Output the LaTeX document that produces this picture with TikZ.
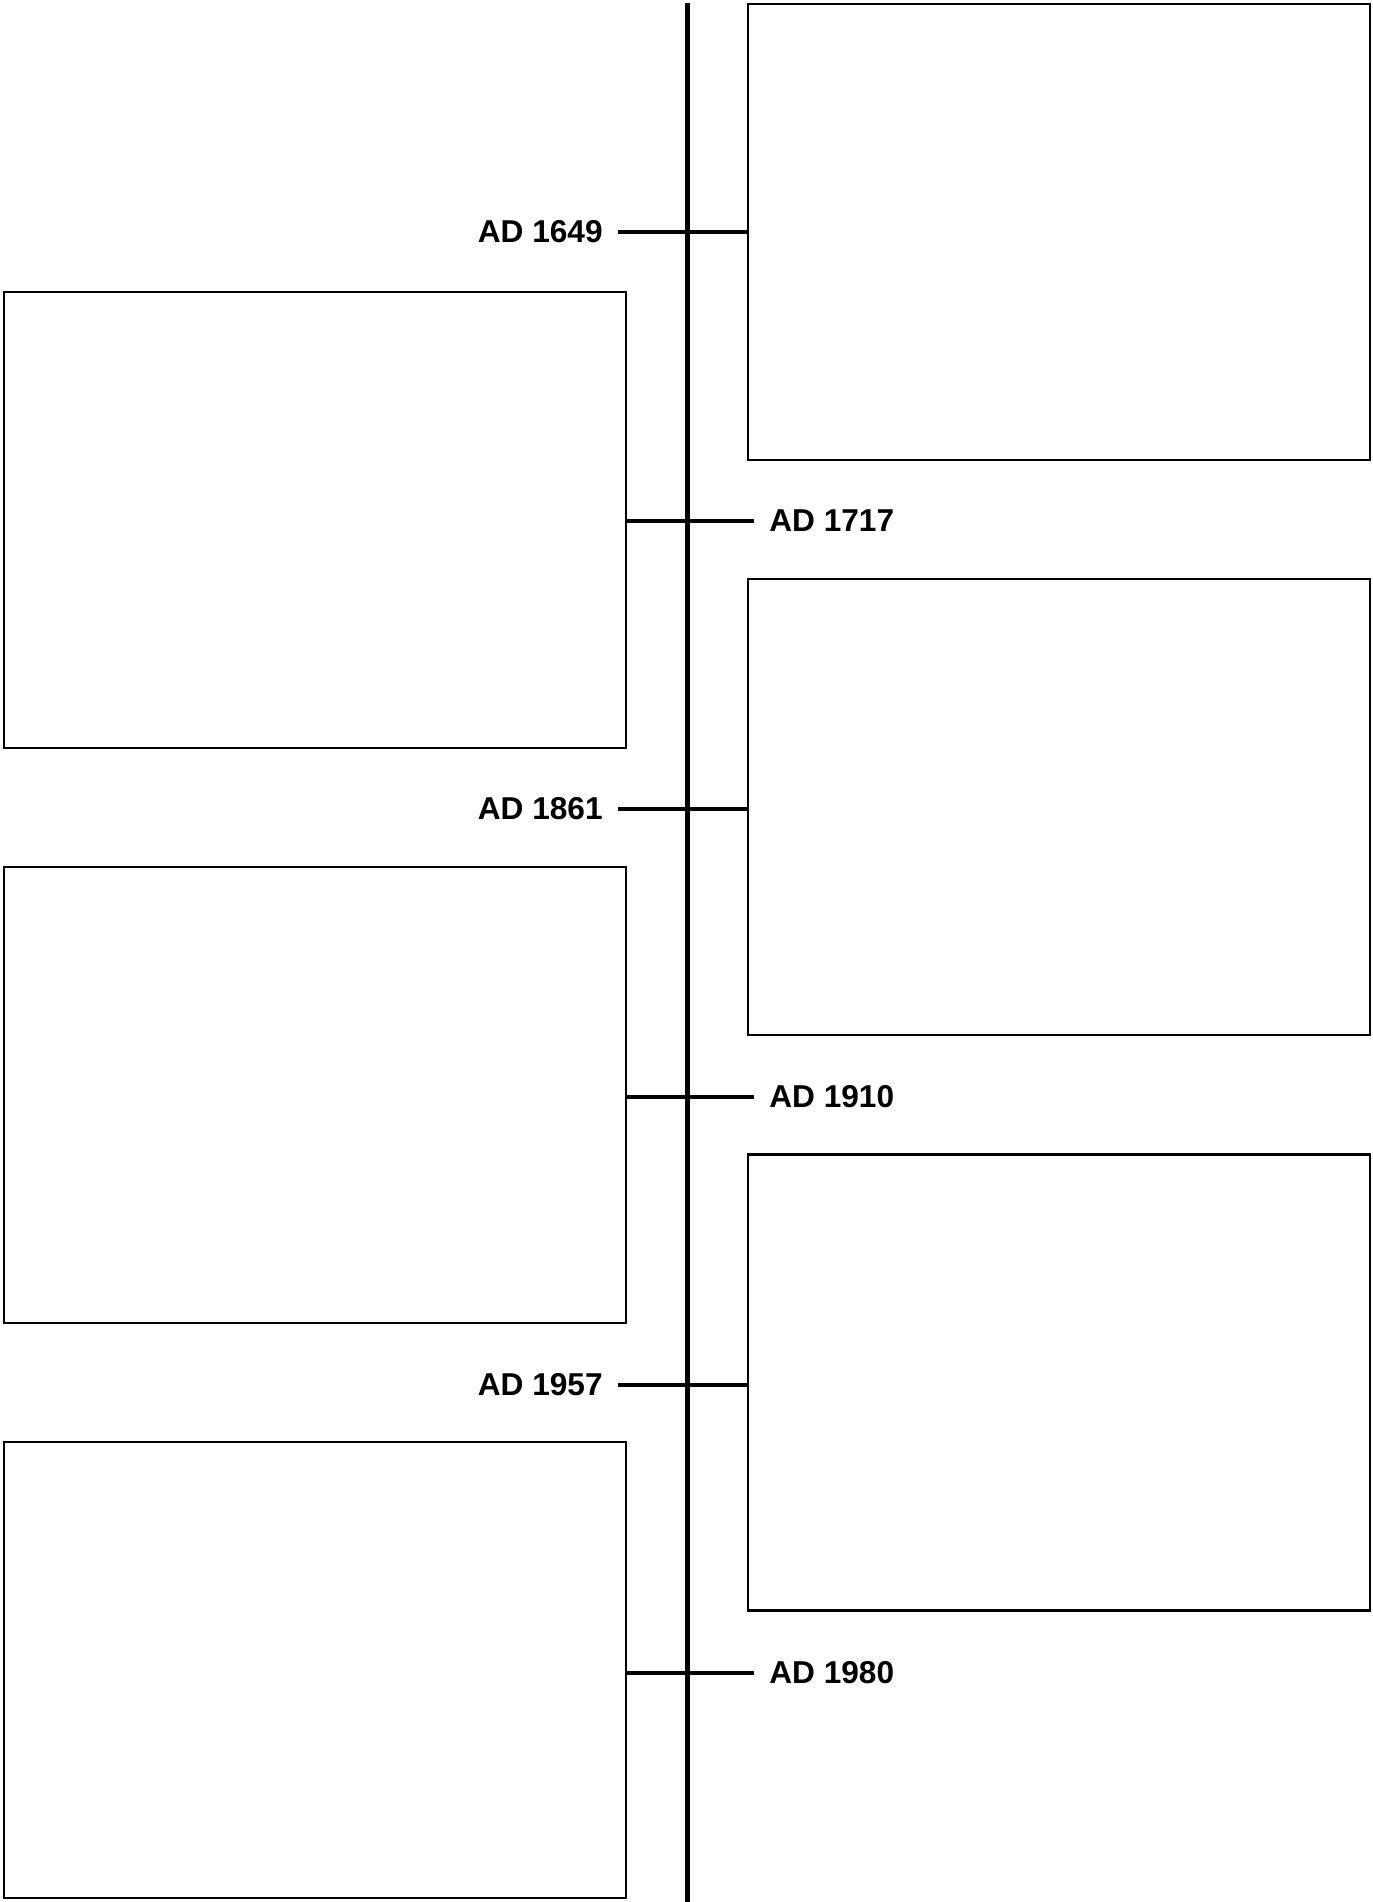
\documentclass[tikz,border=0pt]{standalone}
\usepackage{fontspec}
\setmainfont{Liberation Sans}

\begin{document}
\begin{tikzpicture}[
    x=0.02cm, y=-0.02cm,
    event_box/.style = {draw, rectangle, line width=0.05cm, minimum width=12.44cm, minimum height=9.12cm, inner sep=0pt},
    year_label/.style = {font=\fontsize{18}{20}\selectfont\bfseries, inner ysep=0pt, inner xsep=0.3cm},
    time_axis/.style = {line width=0.1cm},
    tick_line/.style = {line width=0.08cm}
]
\useasboundingbox (0,0) rectangle (1372,1902);

% --- Trục thời gian ---
\coordinate (axis_top) at (687,3);
\coordinate (axis_bottom) at (687,1902);
\draw[time_axis] (axis_top) -- (axis_bottom);

% --- Cột phải: các ô sự kiện ---
\node[event_box] (box_r1) at (1059,232) {};
\node[event_box] (box_r2) at (1059,807) {};
\node[event_box] (box_r3) at (1059,1382.5) {};

% --- Cột trái: các ô sự kiện ---
\node[event_box] (box_l1) at (315,520) {};
\node[event_box] (box_l2) at (315,1095) {};
\node[event_box] (box_l3) at (315,1670) {};

% --- Nhãn năm bên trái (nối sang ô phải) ---
\node[year_label, anchor=east] (y1649) at (618,232) {AD 1649};
\draw[tick_line] (y1649.east) -- (y1649.east -| box_r1.west);
\node[year_label, anchor=east] (y1861) at (618,808.5) {AD 1861};
\draw[tick_line] (y1861.east) -- (y1861.east -| box_r2.west);
\node[year_label, anchor=east] (y1957) at (618,1384.5) {AD 1957};
\draw[tick_line] (y1957.east) -- (y1957.east -| box_r3.west);

% --- Nhãn năm bên phải (nối từ ô trái) ---
\node[year_label, anchor=west] (y1717) at (754,520.5) {AD 1717};
\draw[tick_line] (box_l1.east |- y1717.west) -- (y1717.west);
\node[year_label, anchor=west] (y1910) at (754,1096.5) {AD 1910};
\draw[tick_line] (box_l2.east |- y1910.west) -- (y1910.west);
\node[year_label, anchor=west] (y1980) at (754,1672.5) {AD 1980};
\draw[tick_line] (box_l3.east |- y1980.west) -- (y1980.west);

\end{tikzpicture}
\end{document}
